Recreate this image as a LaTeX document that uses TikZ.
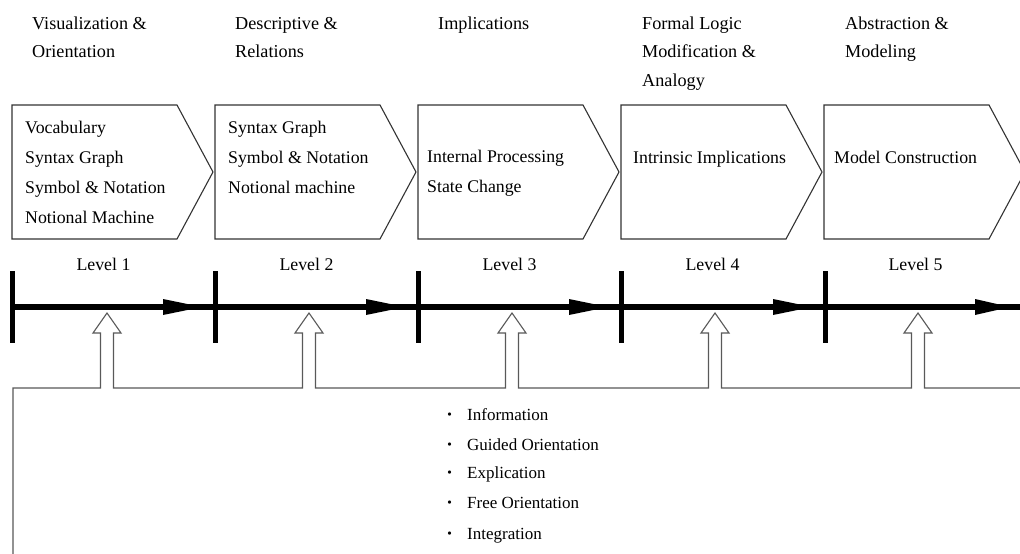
\documentclass[tikz,border=0pt]{standalone}
\usepackage{fontspec}
\setmainfont{Liberation Serif}
\begin{document}
\begin{tikzpicture}[x=1pt,y=-1pt,
  head/.style={anchor=base west, align=left, inner sep=0pt, font=\fontsize{18.2}{28.5}\selectfont},
  boxtext/.style={anchor=base west, align=left, inner sep=0pt, font=\fontsize{17.8}{30}\selectfont},
  chev/.style={draw=black!80, line width=1.1pt, line join=miter},
  lvl/.style={anchor=base, inner sep=0pt, font=\fontsize{17.8}{20}\selectfont},
  axisline/.style={line width=5.5pt},
  tickline/.style={line width=5pt},
  hollow/.style={draw=black!65, line width=1.1pt, line join=miter},
  item/.style={anchor=base west, inner sep=0pt, font=\fontsize{17}{20}\selectfont}]
\useasboundingbox[fill=white] (0,0) rectangle (1020,554);

% stage headings (a multi-line node sits on the baseline of its last line)
\node[head] (h1) at (32,57.5)  {Visualization \&\\Orientation};
\node[head] (h2) at (235,57.5) {Descriptive \&\\Relations};
\node[head] (h3) at (438,29)   {Implications};
\node[head] (h4) at (642,86)   {Formal Logic\\Modification \&\\Analogy};
\node[head] (h5) at (845,57.5) {Abstraction \&\\Modeling};

% chevron boxes
\foreach \x in {12,215,418,621,824}
  \draw[chev] (\x,105) -- (\x+165,105) -- (\x+201,172) -- (\x+165,239) -- (\x,239) -- cycle;

\node[boxtext] (b1) at (25,223)  {Vocabulary\\Syntax Graph\\Symbol \& Notation\\Notional Machine};
\node[boxtext] (b2) at (228,193) {Syntax Graph\\Symbol \& Notation\\Notional machine};
\node[boxtext] (b3) at (427,192) {Internal Processing\\State Change};
\node[boxtext] (b4) at (633,163) {Intrinsic Implications};
\node[boxtext] (b5) at (834,163) {Model Construction};

% level labels
\foreach \c/\n in {103.5/1,306.5/2,509.5/3,712.5/4,915.5/5}
  \node[lvl] (l\n) at (\c,270) {Level \n};

% level axis with ticks and arrowheads
\draw[axisline] (12,307) -- (1020,307);
\foreach \t in {12,215,418,621,825}
  \draw[tickline] (\t,271) -- (\t,343);
\foreach \t in {215,418,621,825}
  \fill (\t-52,299) -- (\t-13,307) -- (\t-52,315) -- cycle;
\fill (975,299) -- (1010,307) -- (975,315) -- cycle;

% hollow feedback arrows joined by one outline
\draw[hollow] (13,554) -- (13,388)
  \foreach \c in {107,309,512,715,918} {
    -- (\c-6.5,388) -- (\c-6.5,333) -- (\c-14,333) -- (\c,313)
    -- (\c+14,333) -- (\c+6.5,333) -- (\c+6.5,388) }
  -- (1020,388);

% phases
\foreach \y/\t [count=\k] in {420/Information,450/Guided Orientation,478/Explication,508/Free Orientation,539/Integration}
  \node[item] (p\k) at (447,\y) {\makebox[5pt][c]{\raisebox{-3pt}{\fontsize{27}{20}\selectfont ·}}\hspace{15pt}\t};
\end{tikzpicture}
\end{document}
